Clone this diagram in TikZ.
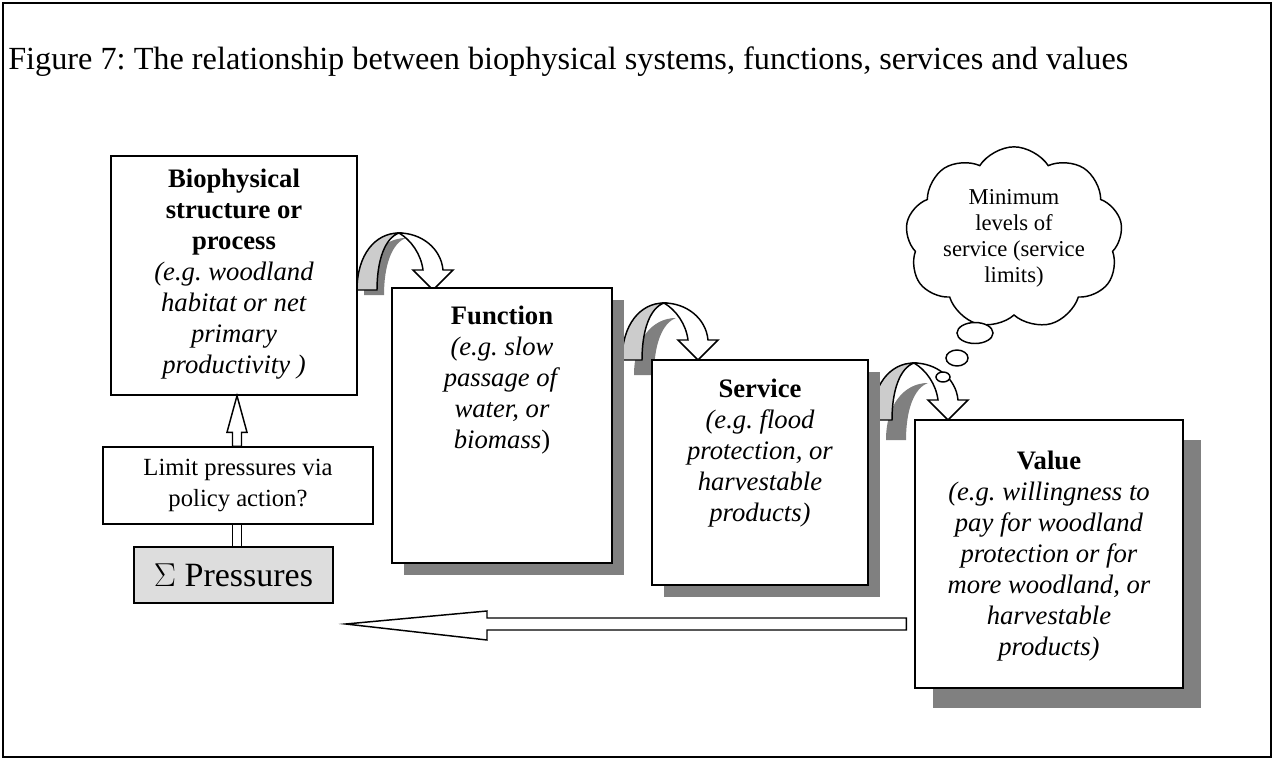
\documentclass[tikz,border=0pt]{standalone}
\usepackage{fontspec}
\setmainfont{Liberation Serif}
\usetikzlibrary{shapes.symbols,shapes.geometric,calc}
\definecolor{shadowgray}{RGB}{128,128,128}
\definecolor{bandgray}{RGB}{204,204,204}
\definecolor{pressgray}{RGB}{221,221,221}
\frenchspacing
\tikzset{
  box/.style={draw, line width=1.1pt, fill=white, inner sep=0pt},
  shadowbox/.style={fill=shadowgray, draw=none},
  body/.style={align=center, inner sep=0pt, font=\fontsize{20}{23.25}\selectfont},
  small/.style={align=center, inner sep=0pt, font=\fontsize{17}{19.5}\selectfont},
  hollow/.style={draw, line width=1.1pt, fill=white, line join=miter},
  bubble/.style={ellipse, draw, line width=1.1pt, fill=white, inner sep=0pt},
  uturn/.pic={
    \fill[shadowgray, shift={(\pgfkeysvalueof{/tikz/ushx},\pgfkeysvalueof{/tikz/ushy})}]
      (0,0) .. controls (0,-35) and (18,-57) .. (42,-57)
      .. controls (28,-52) and (20,-30) .. (20,0) -- cycle;
    \draw[line width=1.1pt, fill=bandgray]
      (0,0) .. controls (0,-35) and (18,-57) .. (42,-57)
      .. controls (28,-52) and (20,-30) .. (20,0) -- cycle;
    \draw[line width=1.1pt, fill=white, line join=miter]
      (42,-57) .. controls (64,-57) and (84,-42) .. (86,-20) -- (96,-20) -- (76,0)
      -- (56,-20) -- (66,-20) .. controls (64,-36) and (54,-50) .. (42,-57) -- cycle;
  }
}
\pgfkeyssetvalue{/tikz/ushx}{7}
\pgfkeyssetvalue{/tikz/ushy}{5}
\begin{document}
\begin{tikzpicture}[x=0.75pt,y=-0.75pt]
\useasboundingbox (0,0) rectangle (1275,760);
\draw[line width=1.4pt] (3,3) rectangle (1271,757);

\node (title) [anchor=west, inner sep=0pt, font=\fontsize{24.2}{28}\selectfont] at (8,62)
  {Figure 7: The relationship between biophysical systems, functions, services and values};

% u-turn arrows (drawn below boxes)
\pic at (357,290) {uturn};
\pgfkeyssetvalue{/tikz/ushx}{12}
\pgfkeyssetvalue{/tikz/ushy}{15}
\pic at (622,360) {uturn};
\pgfkeyssetvalue{/tikz/ushx}{14}
\pgfkeyssetvalue{/tikz/ushy}{20}
\pic at (872,420) {uturn};

% shadows
\fill[shadowbox] (404,300) rectangle (624,575);
\fill[shadowbox] (664,372) rectangle (880,597);
\fill[shadowbox] (933,440) rectangle (1201,708);

% boxes
\node (bio) [box, minimum width=184.5pt, minimum height=179.25pt] at (234,275.5) {};
\node (biotxt) [body] at (234,274)
  {\textbf{Biophysical}\\\textbf{structure or}\\\textbf{process}\\\textit{(e.g. woodland}\\\textit{habitat or net}\\\textit{primary}\\\textit{productivity )}};

\node (fun) [box, minimum width=165pt, minimum height=206.25pt] at (502,425.5) {};
\node (funtxt) [body] at (502,380)
  {\textbf{Function}\\\textit{(e.g. slow}\\\textit{passage of}\\\textit{water, or}\\\textit{biomass}\upshape)};

\node (ser) [box, minimum width=162pt, minimum height=168.75pt] at (760,472.5) {};
\node (sertxt) [body] at (760,453)
  {\textbf{Service}\\\textit{(e.g. flood}\\\textit{protection, or}\\\textit{harvestable}\\\textit{products)}};

\node (val) [box, minimum width=201pt, minimum height=201pt] at (1049,554) {};
\node (valtxt) [body] at (1049,556)
  {\textbf{Value}\\\textit{(e.g. willingness to}\\\textit{pay for woodland}\\\textit{protection or for}\\\textit{more woodland, or}\\\textit{harvestable}\\\textit{products)}};

\node (lim) [box, minimum width=202.5pt, minimum height=57.75pt, body, font=\fontsize{18.5}{23.5}\selectfont] at (238,485.5)
  {Limit pressures via\\policy action?};

\node (pres) [box, fill=pressgray, minimum width=149.25pt, minimum height=42pt, font=\fontsize{25.5}{30}\selectfont] at (233.5,575)
  {$\Sigma$ Pressures};

% connector pressures -> limit
\coordinate (ax) at (237,0);
\draw[hollow] (ax |- pres.north) ++(-4.5,0) rectangle ($(ax |- lim.south)+(4.5,0)$);

% hollow up arrow limit -> bio
\draw[hollow] ($(ax |- lim.north)+(-4.5,0)$) -- ++(0,-14) -- ++(-5.5,0) -- (ax |- bio.south)
  -- ($(ax |- lim.north)+(10,-14)$) -- ++(-5.5,0) -- ($(ax |- lim.north)+(4.5,0)$) -- cycle;

% long arrow value -> pressures
\coordinate (latip) at ($(pres.east)+(12,49)$);
\coordinate (laend) at ($(val.west)+(-8,70)$);
\draw[hollow] (latip) -- (487,611) -- (487,618) -- (laend |- 0,618) -- (laend |- 0,630)
  -- (487,630) -- (487,640) -- cycle;

% thought cloud
\node (cloud) [cloud, draw, line width=1.1pt, fill=white, cloud puffs=9, cloud puff arc=115,
  aspect=1.3, minimum width=151.5pt, minimum height=120pt, small] at (1014,238)
  {Minimum\\levels of\\service (service\\limits)};
\node (b1) [bubble, minimum width=27pt, minimum height=15.75pt] at (975,333) {};
\node (b2) [bubble, minimum width=16.5pt, minimum height=12pt] at (957,358) {};
\node (b3) [bubble, minimum width=10.5pt, minimum height=7.5pt] at (943,377) {};
\end{tikzpicture}
\end{document}
